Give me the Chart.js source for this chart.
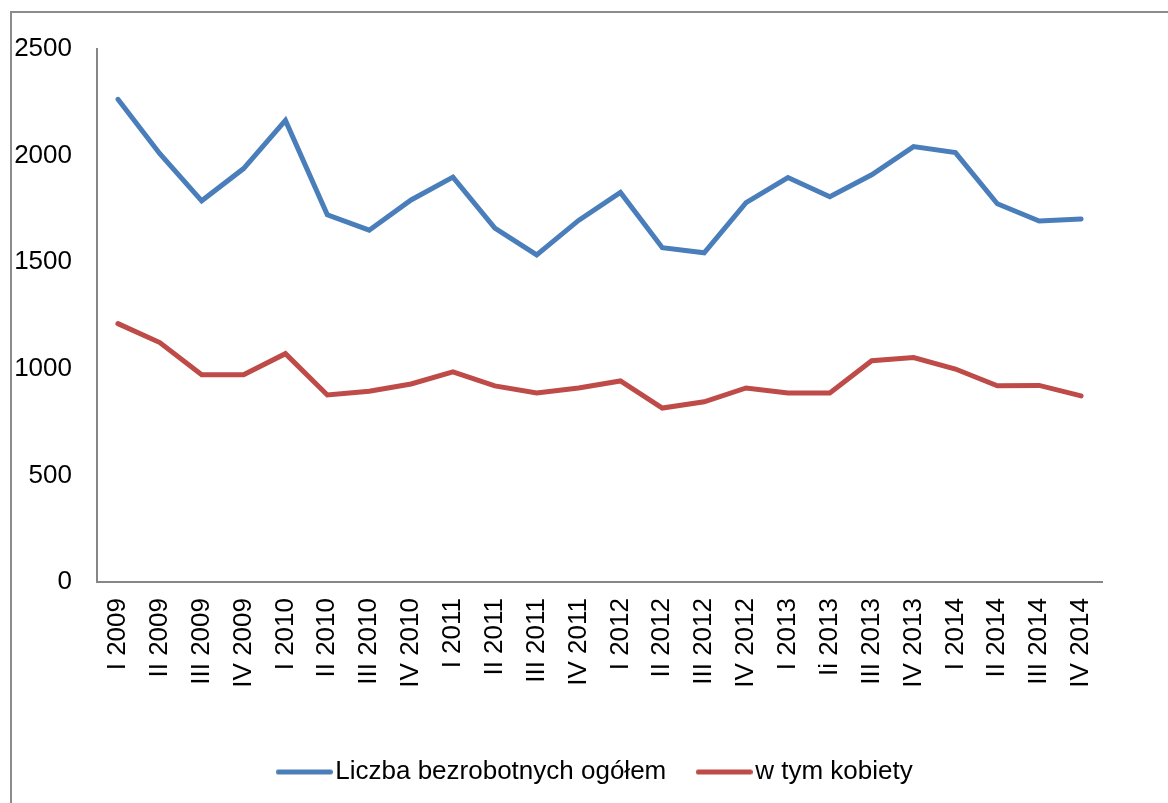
<!DOCTYPE html>
<html lang="pl">
  <head>
    <meta charset="UTF-8" />
    <title>Liczba bezrobotnych</title>
    <script src="https://cdn.jsdelivr.net/npm/chart.js"></script>
    <style>
      html, body {
        margin: 0;
        padding: 0;
        background: #ffffff;
        overflow: hidden;
      }
      #wrap {
        position: relative;
        width: 1168px;
        height: 803px;
      }
      #frame {
        position: absolute;
        left: 10px;
        top: 11px;
        width: 1200px;
        height: 840px;
        border-top: 2px solid #8c8c8c;
        border-left: 2px solid #8c8c8c;
        pointer-events: none;
      }
      #myChart {
        position: absolute;
        left: 0;
        top: 0;
      }
    </style>
  </head>
  <body>
    <div id="wrap">
      <canvas id="myChart" width="1168" height="803"></canvas>
      <div id="frame"></div>
    </div>

    <script>
      const quarters = [
        "I 2009", "II 2009", "III 2009", "IV 2009",
        "I 2010", "II 2010", "III 2010", "IV 2010",
        "I 2011", "II 2011", "III 2011", "IV 2011",
        "I 2012", "II 2012", "III 2012", "IV 2012",
        "I 2013", "Ii 2013", "III 2013", "IV 2013",
        "I 2014", "II 2014", "III 2014", "IV 2014"
      ];

      const ogolem = [
        2264, 2009, 1788, 1939,
        2165, 1722, 1650, 1792,
        1899, 1660, 1534, 1696,
        1827, 1568, 1544, 1779,
        1897, 1807, 1910, 2042,
        2014, 1774, 1693, 1703
      ];

      const kobiety = [
        1212, 1123, 972, 972,
        1071, 877, 895, 929,
        986, 920, 887, 910,
        943, 816, 845, 910,
        887, 887, 1038, 1053,
        999, 920, 922, 873
      ];

      const yTicks = [0, 500, 1000, 1500, 2000, 2500];

      const FONT = "'Liberation Sans Narrow', 'Arial Narrow', 'Liberation Sans', sans-serif";
      const FONT_SIZE = 26;
      const axisGray = "#868686";
      const blue = "#4a7ebb";
      const red = "#be4b48";

      // legend sample: a short thick line, wider than its legend box so the text sits close
      function legendLine(color) {
        const c = document.createElement("canvas");
        c.width = 57;
        c.height = 7;
        const g = c.getContext("2d");
        g.strokeStyle = color;
        g.lineWidth = 5;
        g.lineCap = "round";
        g.beginPath();
        g.moveTo(2.5, 3.5);
        g.lineTo(54.5, 3.5);
        g.stroke();
        return c;
      }

      const ctx = document.getElementById("myChart").getContext("2d");

      new Chart(ctx, {
        type: "line",
        data: {
          labels: quarters,
          datasets: [
            {
              label: "Liczba bezrobotnych ogółem",
              data: ogolem,
              borderColor: blue,
              backgroundColor: blue,
              borderWidth: 5,
              borderCapStyle: "round",
              borderJoinStyle: "miter",
              pointRadius: 0,
              pointStyle: legendLine(blue),
              tension: 0,
              fill: false
            },
            {
              label: "w tym kobiety",
              data: kobiety,
              borderColor: red,
              backgroundColor: red,
              borderWidth: 5,
              borderCapStyle: "round",
              borderJoinStyle: "miter",
              pointRadius: 0,
              pointStyle: legendLine(red),
              tension: 0,
              fill: false
            }
          ]
        },
        options: {
          responsive: false,
          animation: false,
          layout: {
            padding: { top: 49, left: 0, right: 66, bottom: 8 }
          },
          plugins: {
            tooltip: { enabled: false },
            legend: {
              position: "bottom",
              fullSize: false,
              labels: {
                usePointStyle: true,
                pointStyleWidth: 36,
                boxHeight: 5,
                padding: 40,
                color: "#000000",
                font: { family: FONT, size: FONT_SIZE }
              }
            }
          },
          scales: {
            x: {
              offset: true,
              grid: { display: false, drawTicks: false, offset: true },
              border: { display: true, color: axisGray, width: 2 },
              ticks: {
                color: "#000000",
                font: { family: FONT, size: FONT_SIZE },
                minRotation: 90,
                maxRotation: 90,
                autoSkip: false,
                padding: 16
              },
              afterFit: (scale) => {
                scale.height = 137;
              }
            },
            y: {
              min: 0,
              max: 2500,
              grid: { display: false, drawTicks: false },
              border: { display: true, color: axisGray, width: 2 },
              afterBuildTicks: (scale) => {
                scale.ticks = yTicks.map(v => ({ value: v }));
              },
              ticks: {
                color: "#000000",
                font: { family: FONT, size: FONT_SIZE },
                padding: 25,
                callback: (value) => String(value)
              },
              afterFit: (scale) => {
                scale.width = 97;
              }
            }
          }
        }
      });
    </script>
  </body>
</html>
